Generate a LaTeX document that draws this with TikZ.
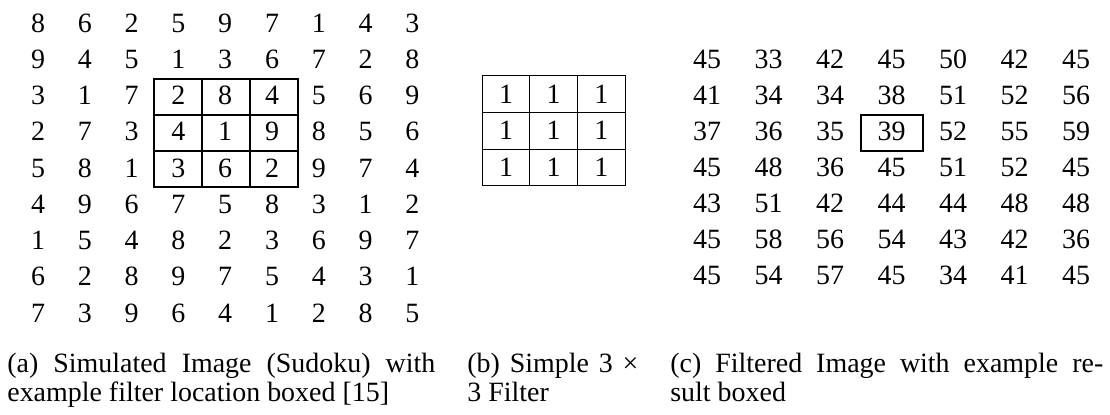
\documentclass[tikz,border=0pt]{standalone}
\usepackage{fontspec}
\setmainfont{Liberation Serif}
\usetikzlibrary{positioning}

\begin{document}
\begin{tikzpicture}[x=0.02cm,y=-0.02cm,
			ziffer/.style={inner sep=0pt,font=\fontsize{15.9}{16.4}\selectfont},
			zelle/.style={draw,line width=0.6pt,inner sep=0pt,minimum width=0.96cm,minimum height=0.72cm},
			filt/.style={zelle,minimum width=0.954cm,minimum height=0.734cm,font=\fontsize{15.9}{16.4}\selectfont},
			caption/.style={anchor=base west,inner sep=0pt,align=justify,font=\fontsize{15.9}{16.4}\selectfont}
			]
			\useasboundingbox (0,0) rectangle (1110,415);
			% (a) simulated image
			\foreach \zeile [count=\r from 0] in {{8,6,2,5,9,7,1,4,3},{9,4,5,1,3,6,7,2,8},{3,1,7,2,8,4,5,6,9},{2,7,3,4,1,9,8,5,6},{5,8,1,3,6,2,9,7,4},{4,9,6,7,5,8,3,1,2},{1,5,4,8,2,3,6,9,7},{6,2,8,9,7,5,4,3,1},{7,3,9,6,4,1,2,8,5}}
				\foreach \wert [count=\c from 0] in \zeile
					\node[ziffer] (img-\r-\c) at (38+46.8*\c,23+36.25*\r) {\wert};
			% filter window
			\foreach \r in {0,1,2}
				\foreach \c in {0,1,2}
					\node[zelle] (win-\r-\c) at (178+48*\c,97+36*\r) {};
			% (b) filter
			\foreach \r in {0,1,2}
				\foreach \c in {0,1,2}
					\node[filt] (fil-\r-\c) at (506+47.7*\c,94+36.7*\r) {1};
			% (c) filtered image
			\foreach \zeile [count=\r from 0] in {{45,33,42,45,50,42,45},{41,34,34,38,51,52,56},{37,36,35,39,52,55,59},{45,48,36,45,51,52,45},{43,51,42,44,44,48,48},{45,58,56,54,43,42,36},{45,54,57,45,34,41,45}}
				\foreach \wert [count=\c from 0] in \zeile
					\node[ziffer] (res-\r-\c) at (707+61.5*\c,59+36*\r) {\wert};
			\node[zelle,minimum width=1.24cm] (pick) at (892,133) {};
			% captions
			\node[caption,text width=8.56cm] (capa) at (7,373) {(a) Simulated Image (Sudoku) with\linebreak example filter location boxed [15]};
			\node[caption,text width=3.42cm] (capb) at (467,373) {(b) Simple 3 ×\linebreak 3 Filter};
			\node[caption,text width=8.66cm] (capc) at (670,373) {(c) Filtered Image with example re-\linebreak sult boxed};
		\end{tikzpicture}
\end{document}
